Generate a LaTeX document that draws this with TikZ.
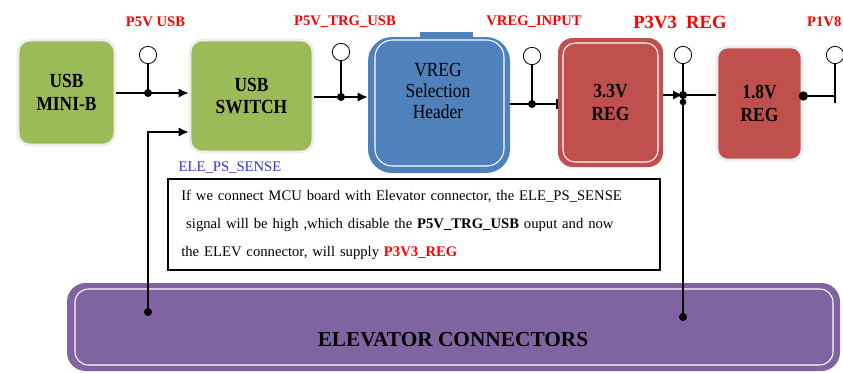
\documentclass[tikz,border=0pt]{standalone}
\usepackage{fontspec}
\setmainfont{Liberation Serif}
\newfontfamily\boxfont[FakeStretch=0.87]{Liberation Serif}
\usepackage{tikz}
\usetikzlibrary{shapes,arrows,arrows.meta,positioning,shadows}

\definecolor{usbgreen}{HTML}{9BBB59}
\definecolor{vregblue}{HTML}{4F81BD}
\definecolor{regred}{HTML}{C0504D}
\definecolor{elevpurple}{HTML}{8064A2}
\definecolor{netred}{HTML}{FF0000}
\definecolor{senseblue}{RGB}{51,51,204}

\begin{document}
\begin{tikzpicture}[x=0.75pt,y=-0.75pt,
  wire/.style={line width=1.3pt},
  tip/.style={-{Latex[length=7.5pt,width=7pt]}},
  netname/.style={text=netred,font=\bfseries\fontsize{11}{13}\selectfont},
  blocktext/.style={font=\boxfont\bfseries\fontsize{15}{17}\selectfont,align=center},
  greenbox/.style={fill=usbgreen,draw=black!7,line width=2pt,rounded corners=9pt,blocktext},
  redbox/.style={fill=regred,rounded corners=11pt,blocktext},
  testpoint/.style={circle,draw,fill=white,line width=0.6pt,minimum size=13pt,inner sep=0pt}]
\useasboundingbox (0,0) rectangle (843,372);

% blocos
\node[greenbox,minimum width=72.75pt,minimum height=78.75pt] (usb) at (66.5,92.5) {USB\\MINI-B};
\node[greenbox,minimum width=92.25pt,minimum height=84pt] (switch) at (251.5,96) {USB\\SWITCH};
\fill[vregblue] (420,32) rectangle (473,40);
\node[fill=vregblue,rounded corners=18pt,minimum width=106.5pt,minimum height=102pt] (vreg) at (439,105) {};
\draw[white,line width=0.8pt,rounded corners=13pt] (375,40) rectangle (504,166);
\node[font=\boxfont\fontsize{15}{16}\selectfont,align=center] (vregtext) at (438,91) {VREG\\Selection\\Header};
\node[redbox,minimum width=78.75pt,minimum height=96.75pt] (reg33) at (610.5,102.5) {3.3V\\REG};
\draw[white,line width=0.8pt,rounded corners=9pt] (563,43) rectangle (658,162);
\node[redbox,draw=black!7,line width=2pt,rounded corners=8pt,minimum width=63.75pt,minimum height=84.75pt] (reg18) at (759.5,103.5) {1.8V\\REG};
\node[fill=elevpurple,rounded corners=14pt,minimum width=579.75pt,minimum height=66pt] (elev) at (453.5,327) {};
\draw[white,line width=0.8pt,rounded corners=10pt] (75,289) rectangle (833,365);
\node[font=\bfseries\fontsize{16}{18}\selectfont] (elevtext) at (453,340) {ELEVATOR CONNECTORS};

% nota
\node[draw,line width=1.2pt,text width=349pt,minimum height=68pt,inner xsep=10pt,align=left,
  font=\fontsize{11}{21}\selectfont] (nota) at (414,224.5)
  {If we connect MCU board with Elevator connector, the ELE\_PS\_SENSE\\
   \ signal will be high ,which disable the \textbf{P5V\_TRG\_USB} ouput and now\\
   the ELEV connector, will supply \textcolor{netred}{\textbf{P3V3\_REG}}};
\node[text=senseblue,font=\fontsize{11}{13}\selectfont] (sense) at (230,168) {ELE\_PS\_SENSE};

% nomes das redes
\node[netname] (n1) at (155.5,22) {P5V USB};
\node[netname] (n2) at (345,22) {P5V\_TRG\_USB};
\node[netname] (n3) at (534,22) {VREG\_INPUT};
\node[netname,font=\bfseries\fontsize{14}{16}\selectfont] (n4) at (680,22) {P3V3~ REG};
\node[netname,anchor=east,inner xsep=1pt] (n5) at (843,22) {P1V8};

% pontos de teste
\node[testpoint] (tp1) at (148,55) {};
\node[testpoint] (tp2) at (341,52) {};
\node[testpoint] (tp3) at (532,56) {};
\node[testpoint] (tp4) at (683,55) {};
\node[testpoint] (tp5) at (835,55) {};
\coordinate (j1) at (148,93);
\coordinate (j2) at (341,97);
\coordinate (j3) at (532,104);
\coordinate (j4) at (683,95);
\coordinate (j5) at (835,96);
\coordinate (s1) at (148,132);
\coordinate (e1) at (148,312);
\coordinate (e2) at (683,317);

% ligacoes
\draw[wire,tip] (usb.east |- j1) -- (switch.west |- j1);
\draw[wire,tip] (e1) -- (s1) -- (switch.west |- s1);
\draw[wire,tip] (switch.east |- j2) -- (vreg.west |- j2);
\draw[wire,-|] (vreg.east |- j3) -- (reg33.west |- j3);
\draw[wire,tip] (reg33.east |- j4) -- (j4);
\draw[wire] (j4) -- (reg18.west |- j4);
\draw[wire] (reg18.east |- j5) -- (j5);
\draw[wire] (tp1) -- (j1);
\draw[wire] (tp2) -- (j2);
\draw[wire] (tp3) -- (j3);
\draw[wire] (tp4) -- (e2);
\draw[wire] (tp5) -- (835,103);
\foreach \p in {j1,j2,j3,j4,e1,e2} \fill (\p) circle (3pt);
\fill (683,102) circle (2.5pt);
\fill (reg18.east |- j5) circle (3.5pt);
\end{tikzpicture}
\end{document}
